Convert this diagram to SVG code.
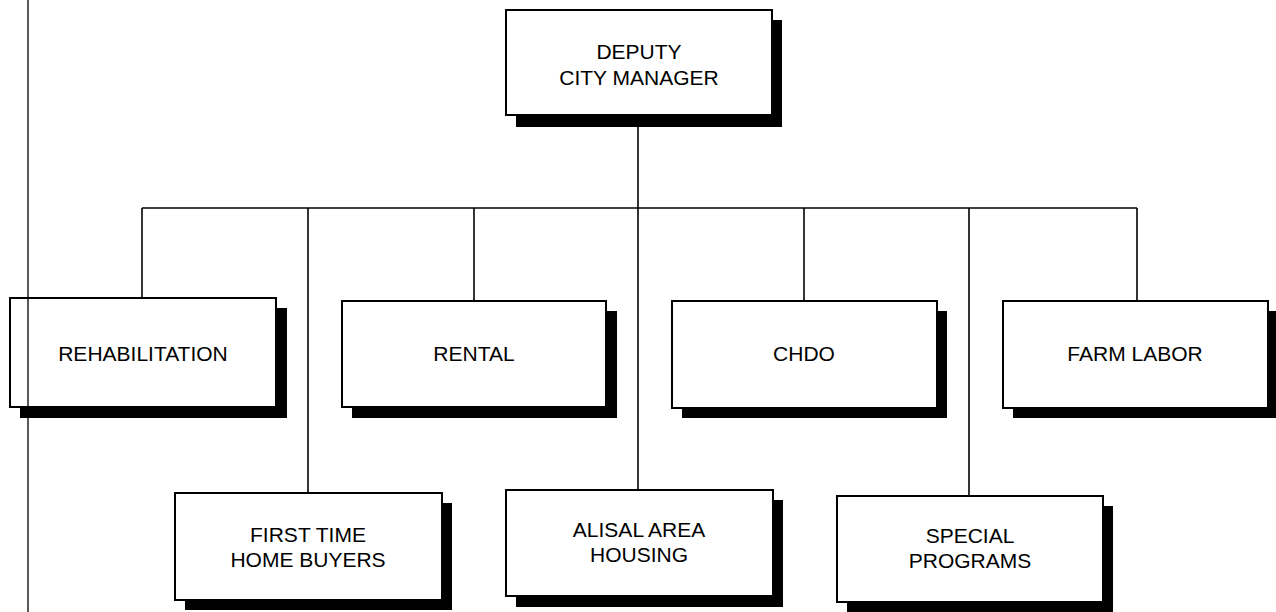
<svg xmlns="http://www.w3.org/2000/svg" width="1276" height="612" viewBox="0 0 1276 612">
  <style>
    .shadow { fill: #000; }
    .box { fill: #fff; stroke: #000; stroke-width: 2; }
    .wire { fill: none; stroke: #000; stroke-width: 1.6; }
    .margin { fill: none; stroke: #000; stroke-width: 1.3; }
    text { font-family: "Liberation Sans", Arial, sans-serif; font-size: 21px; fill: #000; text-anchor: middle; }
  </style>

  <!-- connectors -->
  <g id="connectors">
    <line class="wire" x1="638" y1="115" x2="638" y2="490"/>
    <line class="wire" x1="142" y1="208" x2="1137" y2="208"/>
    <line class="wire" x1="142" y1="208" x2="142" y2="298"/>
    <line class="wire" x1="308" y1="208" x2="308" y2="493"/>
    <line class="wire" x1="474" y1="208" x2="474" y2="301"/>
    <line class="wire" x1="804" y1="208" x2="804" y2="301"/>
    <line class="wire" x1="969" y1="208" x2="969" y2="496"/>
    <line class="wire" x1="1137" y1="208" x2="1137" y2="301"/>
  </g>

  <g id="deputy-city-manager">
    <rect class="shadow" x="516" y="20" width="266" height="107"/>
    <rect class="box" x="506" y="10" width="266" height="105"/>
    <text x="639" y="59">DEPUTY</text>
    <text x="639" y="85">CITY MANAGER</text>
  </g>

  <g id="rehabilitation">
    <rect class="shadow" x="20" y="308" width="267" height="110"/>
    <rect class="box" x="10" y="298" width="266" height="109"/>
    <text x="143" y="361">REHABILITATION</text>
  </g>

  <g id="rental">
    <rect class="shadow" x="352" y="311" width="265" height="107"/>
    <rect class="box" x="342" y="301" width="264" height="106"/>
    <text x="474" y="361">RENTAL</text>
  </g>

  <g id="chdo">
    <rect class="shadow" x="682" y="311" width="265" height="107"/>
    <rect class="box" x="672" y="301" width="265" height="107"/>
    <text x="804" y="361">CHDO</text>
  </g>

  <g id="farm-labor">
    <rect class="shadow" x="1013" y="311" width="265" height="107"/>
    <rect class="box" x="1003" y="301" width="265" height="107"/>
    <text x="1135" y="361">FARM LABOR</text>
  </g>

  <g id="first-time-home-buyers">
    <rect class="shadow" x="185" y="503" width="267" height="107"/>
    <rect class="box" x="175" y="493" width="267" height="107"/>
    <text x="308" y="542">FIRST TIME</text>
    <text x="308" y="567">HOME BUYERS</text>
  </g>

  <g id="alisal-area-housing">
    <rect class="shadow" x="516" y="500" width="267" height="107"/>
    <rect class="box" x="506" y="490" width="267" height="106"/>
    <text x="639" y="537">ALISAL AREA</text>
    <text x="639" y="562">HOUSING</text>
  </g>

  <g id="special-programs">
    <rect class="shadow" x="847" y="506" width="266" height="108"/>
    <rect class="box" x="837" y="496" width="266" height="106"/>
    <text x="970" y="543">SPECIAL</text>
    <text x="970" y="568">PROGRAMS</text>
  </g>

  <!-- page margin rule -->
  <line class="margin" x1="28" y1="0" x2="28" y2="612"/>
</svg>
